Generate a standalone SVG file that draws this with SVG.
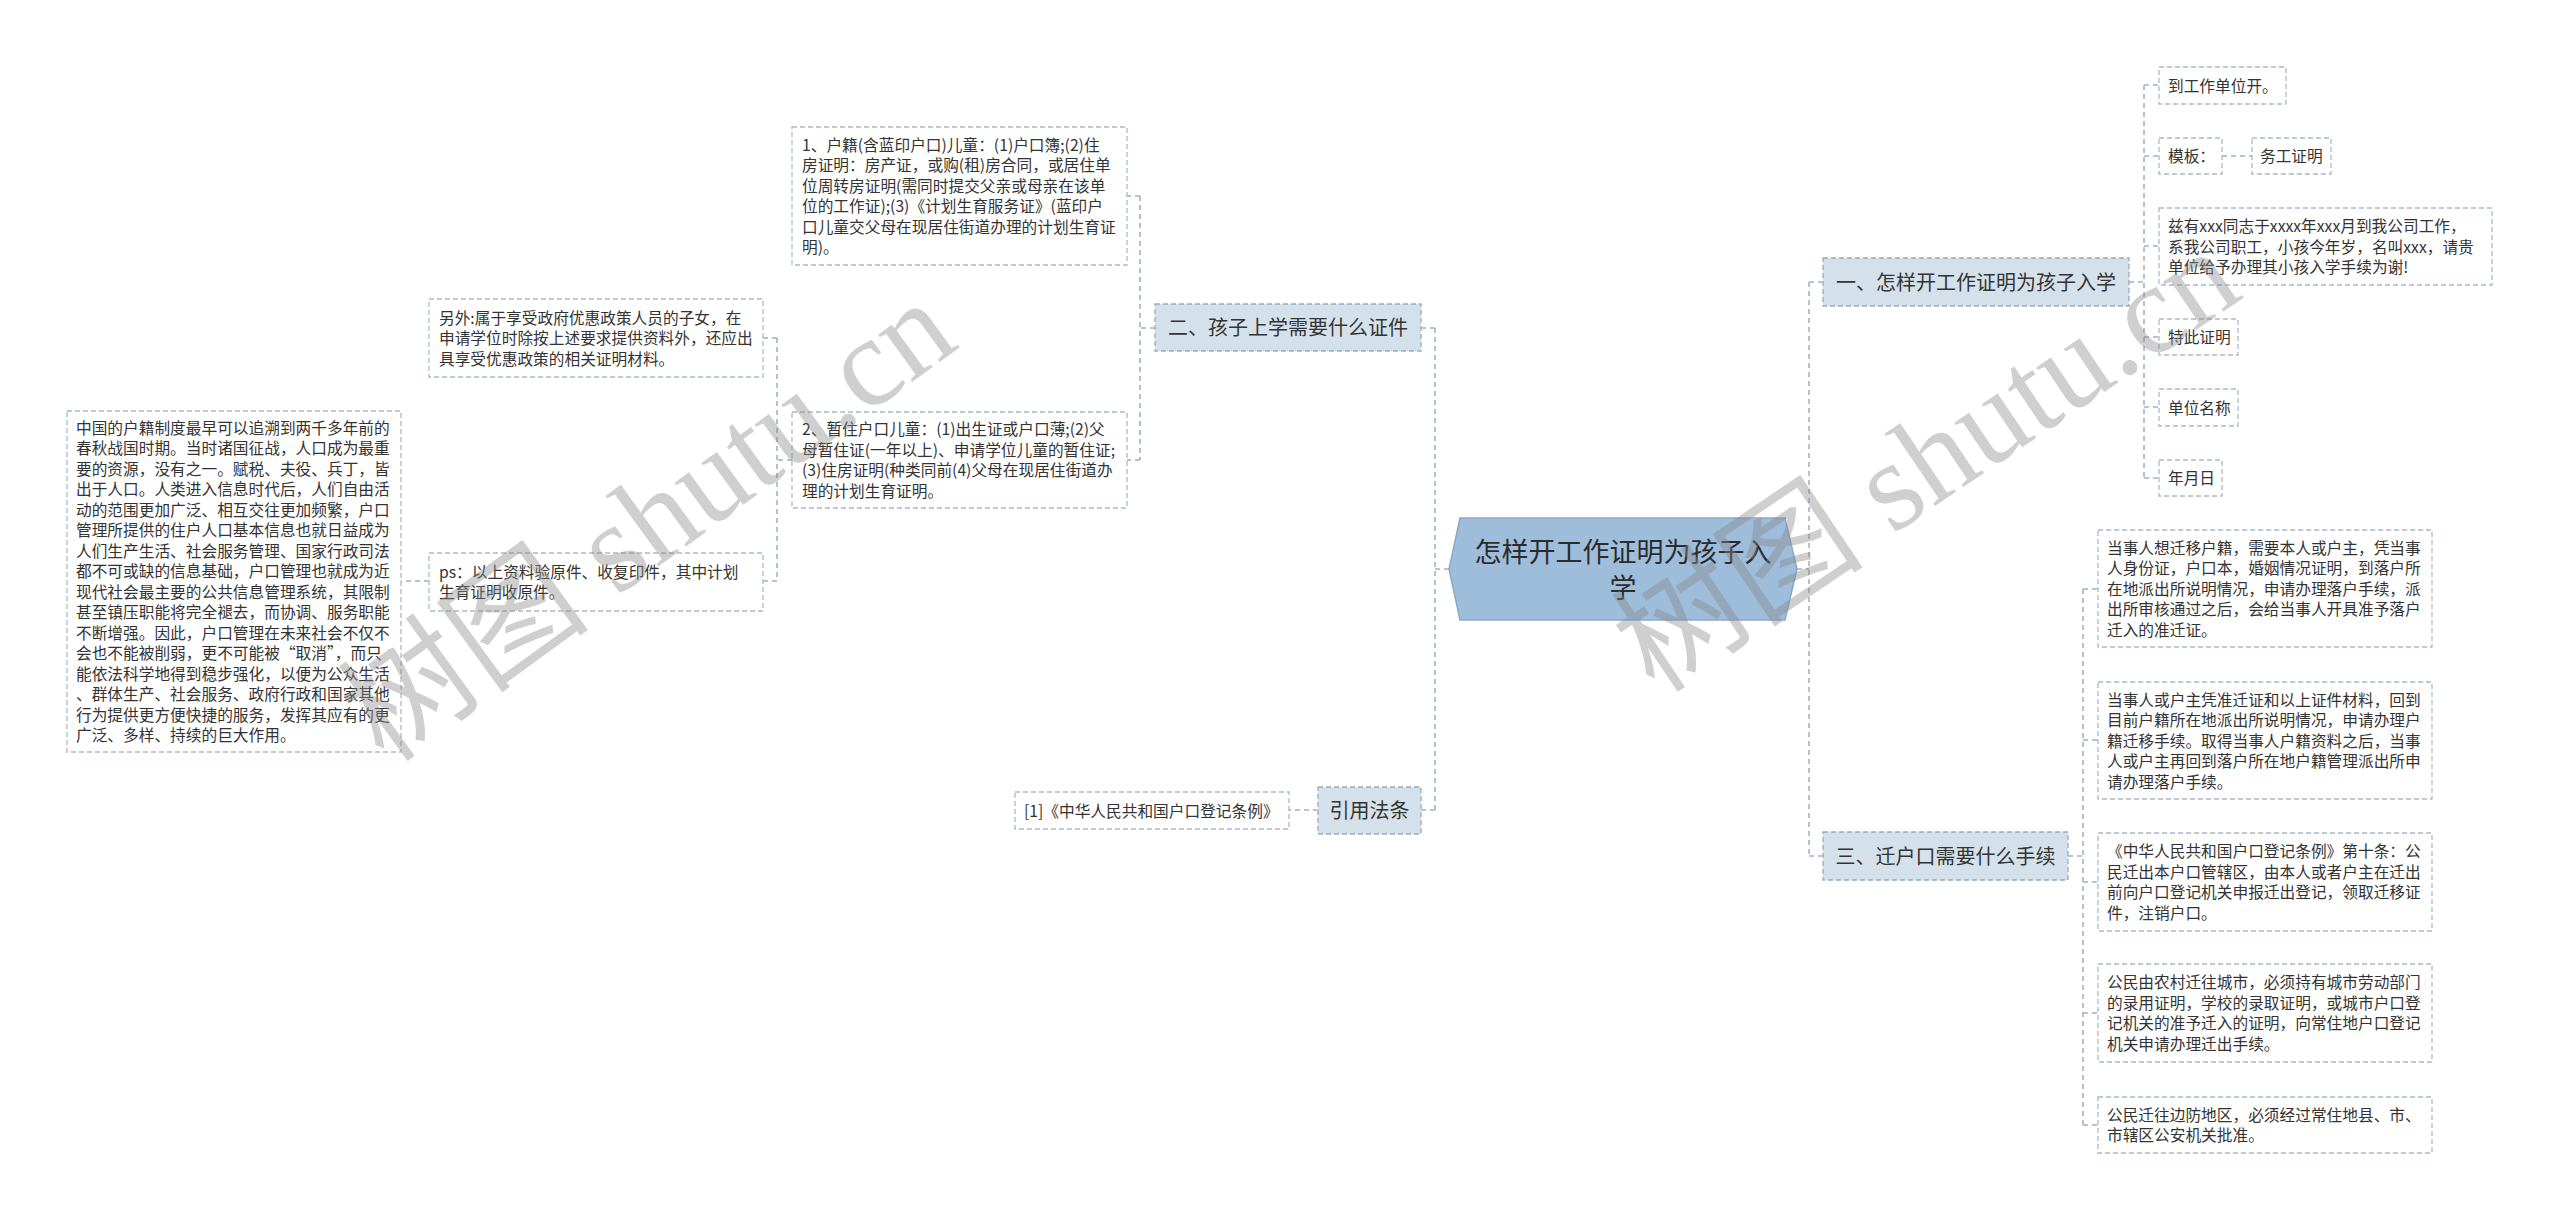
<svg xmlns="http://www.w3.org/2000/svg" width="2560" height="1221" viewBox="0 0 2560 1221">
<style>
.bg{fill:#ffffff}
.box{fill:#ffffff;stroke:#a9b9c8;stroke-width:1.3;stroke-dasharray:5 3}
.l1{fill:#d5e1ea;stroke:#98acbf;stroke-width:1.3;stroke-dasharray:5 3}
.root{fill:#9dbddb;stroke:#8aa9c7;stroke-width:1.5}
.conn{fill:none;stroke:#9fb3c6;stroke-width:1.6;stroke-dasharray:5 4}
text{font-family:"Noto Sans CJK SC","Microsoft YaHei",sans-serif;fill:#333333}
.s{font-size:15.7px}
.m{font-size:20px;text-anchor:middle}
.r{font-size:27px;text-anchor:middle;fill:#2b2b2b}
.wm{font-family:"Liberation Serif","Noto Sans CJK SC",serif;font-size:127px;fill:#888888;opacity:0.4}
</style>
<rect class="bg" x="0" y="0" width="2560" height="1221"/>

<g id="connectors">
  <path class="conn" d="M1449,569 H1435 M1435,328 V810 M1435,328 H1421 M1435,810 H1421"/>
  <path class="conn" d="M1797,569 H1809 M1809,282 V856 M1809,282 H1823 M1809,856 H1823"/>
  <path class="conn" d="M1155,328 H1140 M1140,196 V460 M1140,196 H1127 M1140,460 H1127"/>
  <path class="conn" d="M792,460 H777 M777,338 V581 M777,338 H763 M777,581 H763"/>
  <path class="conn" d="M429,581 H401"/>
  <path class="conn" d="M1318,810 H1289"/>
  <path class="conn" d="M2129,282 H2144 M2144,85 V478 M2144,85 H2159 M2144,156 H2159 M2144,246 H2159 M2144,337 H2159 M2144,407 H2159 M2144,478 H2159 M2222,156 H2252"/>
  <path class="conn" d="M2068,856 H2083 M2083,589 V1125 M2083,589 H2098 M2083,740 H2098 M2083,882 H2098 M2083,1013 H2098 M2083,1125 H2098"/>
</g>

<g id="root">
  <polygon class="root" points="1460,518 1785,518 1797,569 1785,620 1460,620 1449,569"/>
  <text class="r" x="1623" y="562">怎样开工作证明为孩子入</text>
  <text class="r" x="1623" y="598">学</text>
</g>

<g id="n2">
  <rect class="l1" x="1155" y="304" width="266" height="47"/>
  <text class="m" x="1288" y="335">二、孩子上学需要什么证件</text>
</g>
<g id="n2a">
  <rect class="box" x="792" y="127" width="335" height="138"/>
  <text class="s" x="802" y="150.8">1、户籍(含蓝印户口)儿童：(1)户口簿;(2)住</text>
  <text class="s" x="802" y="171.3">房证明：房产证，或购(租)房合同，或居住单</text>
  <text class="s" x="802" y="191.8">位周转房证明(需同时提交父亲或母亲在该单</text>
  <text class="s" x="802" y="212.3">位的工作证);(3)《计划生育服务证》(蓝印户</text>
  <text class="s" x="802" y="232.8">口儿童交父母在现居住街道办理的计划生育证</text>
  <text class="s" x="802" y="253.3">明)。</text>
</g>
<g id="n2b">
  <rect class="box" x="792" y="412" width="335" height="96"/>
  <text class="s" x="802" y="435.3">2、暂住户口儿童：(1)出生证或户口薄;(2)父</text>
  <text class="s" x="802" y="455.8">母暂住证(一年以上)、申请学位儿童的暂住证;</text>
  <text class="s" x="802" y="476.3">(3)住房证明(种类同前(4)父母在现居住街道办</text>
  <text class="s" x="802" y="496.8">理的计划生育证明。</text>
</g>
<g id="n2b1">
  <rect class="box" x="429" y="299" width="334" height="78"/>
  <text class="s" x="439" y="323.5">另外:属于享受政府优惠政策人员的子女，在</text>
  <text class="s" x="439" y="344">申请学位时除按上述要求提供资料外，还应出</text>
  <text class="s" x="439" y="364.5">具享受优惠政策的相关证明材料。</text>
</g>
<g id="n2b2">
  <rect class="box" x="429" y="553" width="334" height="58"/>
  <text class="s" x="439" y="577.8">ps：以上资料验原件、收复印件，其中计划</text>
  <text class="s" x="439" y="598.3">生育证明收原件。</text>
</g>
<g id="n2b2a">
  <rect class="box" x="67" y="411" width="334" height="341"/>
  <text class="s" x="76" y="433.8">中国的户籍制度最早可以追溯到两千多年前的</text>
  <text class="s" x="76" y="454.3">春秋战国时期。当时诸国征战，人口成为最重</text>
  <text class="s" x="76" y="474.8">要的资源，没有之一。赋税、夫役、兵丁，皆</text>
  <text class="s" x="76" y="495.3">出于人口。人类进入信息时代后，人们自由活</text>
  <text class="s" x="76" y="515.8">动的范围更加广泛、相互交往更加频繁，户口</text>
  <text class="s" x="76" y="536.3">管理所提供的住户人口基本信息也就日益成为</text>
  <text class="s" x="76" y="556.8">人们生产生活、社会服务管理、国家行政司法</text>
  <text class="s" x="76" y="577.3">都不可或缺的信息基础，户口管理也就成为近</text>
  <text class="s" x="76" y="597.8">现代社会最主要的公共信息管理系统，其限制</text>
  <text class="s" x="76" y="618.3">甚至镇压职能将完全褪去，而协调、服务职能</text>
  <text class="s" x="76" y="638.8">不断增强。因此，户口管理在未来社会不仅不</text>
  <text class="s" x="76" y="659.3">会也不能被削弱，更不可能被“取消”，而只</text>
  <text class="s" x="76" y="679.8">能依法科学地得到稳步强化，以便为公众生活</text>
  <text class="s" x="76" y="700.3">、群体生产、社会服务、政府行政和国家其他</text>
  <text class="s" x="76" y="720.8">行为提供更方便快捷的服务，发挥其应有的更</text>
  <text class="s" x="76" y="741.3">广泛、多样、持续的巨大作用。</text>
</g>

<g id="n4">
  <rect class="l1" x="1318" y="787" width="103" height="47"/>
  <text class="m" x="1369.5" y="818">引用法条</text>
</g>
<g id="n4a">
  <rect class="box" x="1015" y="792" width="274" height="37"/>
  <text class="s" x="1024" y="816.5">[1]《中华人民共和国户口登记条例》</text>
</g>

<g id="n1">
  <rect class="l1" x="1823" y="258" width="306" height="48"/>
  <text class="m" x="1976" y="289.6">一、怎样开工作证明为孩子入学</text>
</g>
<g id="n1a">
  <rect class="box" x="2159" y="67" width="127" height="37"/>
  <text class="s" x="2168" y="91.5">到工作单位开。</text>
</g>
<g id="n1b">
  <rect class="box" x="2159" y="138" width="63" height="36"/>
  <text class="s" x="2168" y="162">模板：</text>
</g>
<g id="n1b1">
  <rect class="box" x="2252" y="138" width="79" height="36"/>
  <text class="s" x="2260" y="162">务工证明</text>
</g>
<g id="n1c">
  <rect class="box" x="2159" y="208" width="333" height="77"/>
  <text class="s" x="2168" y="232">兹有xxx同志于xxxx年xxx月到我公司工作，</text>
  <text class="s" x="2168" y="252.5">系我公司职工，小孩今年岁，名叫xxx，请贵</text>
  <text class="s" x="2168" y="273">单位给予办理其小孩入学手续为谢!</text>
</g>
<g id="n1d">
  <rect class="box" x="2159" y="319" width="79" height="36"/>
  <text class="s" x="2168" y="343">特此证明</text>
</g>
<g id="n1e">
  <rect class="box" x="2159" y="389" width="79" height="37"/>
  <text class="s" x="2168" y="413.5">单位名称</text>
</g>
<g id="n1f">
  <rect class="box" x="2159" y="460" width="63" height="36"/>
  <text class="s" x="2168" y="484">年月日</text>
</g>

<g id="n3">
  <rect class="l1" x="1823" y="832" width="245" height="48"/>
  <text class="m" x="1945.5" y="863.6">三、迁户口需要什么手续</text>
</g>
<g id="n3a">
  <rect class="box" x="2098" y="530" width="334" height="117"/>
  <text class="s" x="2107" y="553.5">当事人想迁移户籍，需要本人或户主，凭当事</text>
  <text class="s" x="2107" y="574">人身份证，户口本，婚姻情况证明，到落户所</text>
  <text class="s" x="2107" y="594.5">在地派出所说明情况，申请办理落户手续，派</text>
  <text class="s" x="2107" y="615">出所审核通过之后，会给当事人开具准予落户</text>
  <text class="s" x="2107" y="635.5">迁入的准迁证。</text>
</g>
<g id="n3b">
  <rect class="box" x="2098" y="682" width="334" height="117"/>
  <text class="s" x="2107" y="705.5">当事人或户主凭准迁证和以上证件材料，回到</text>
  <text class="s" x="2107" y="726">目前户籍所在地派出所说明情况，申请办理户</text>
  <text class="s" x="2107" y="746.5">籍迁移手续。取得当事人户籍资料之后，当事</text>
  <text class="s" x="2107" y="767">人或户主再回到落户所在地户籍管理派出所申</text>
  <text class="s" x="2107" y="787.5">请办理落户手续。</text>
</g>
<g id="n3c">
  <rect class="box" x="2098" y="833" width="334" height="98"/>
  <text class="s" x="2107" y="857.3">《中华人民共和国户口登记条例》第十条：公</text>
  <text class="s" x="2107" y="877.8">民迁出本户口管辖区，由本人或者户主在迁出</text>
  <text class="s" x="2107" y="898.3">前向户口登记机关申报迁出登记，领取迁移证</text>
  <text class="s" x="2107" y="918.8">件，注销户口。</text>
</g>
<g id="n3d">
  <rect class="box" x="2098" y="964" width="334" height="98"/>
  <text class="s" x="2107" y="988.3">公民由农村迁往城市，必须持有城市劳动部门</text>
  <text class="s" x="2107" y="1008.8">的录用证明，学校的录取证明，或城市户口登</text>
  <text class="s" x="2107" y="1029.3">记机关的准予迁入的证明，向常住地户口登记</text>
  <text class="s" x="2107" y="1049.8">机关申请办理迁出手续。</text>
</g>
<g id="n3e">
  <rect class="box" x="2098" y="1097" width="334" height="56"/>
  <text class="s" x="2107" y="1120.8">公民迁往边防地区，必须经过常住地县、市、</text>
  <text class="s" x="2107" y="1141.3">市辖区公安机关批准。</text>
</g>

<g id="watermark">
  <text class="wm" transform="translate(385,765) rotate(-36)">树图 shutu.cn</text>
  <text class="wm" transform="translate(1655,695) rotate(-34)">树图 shutu.cn</text>
</g>
</svg>
